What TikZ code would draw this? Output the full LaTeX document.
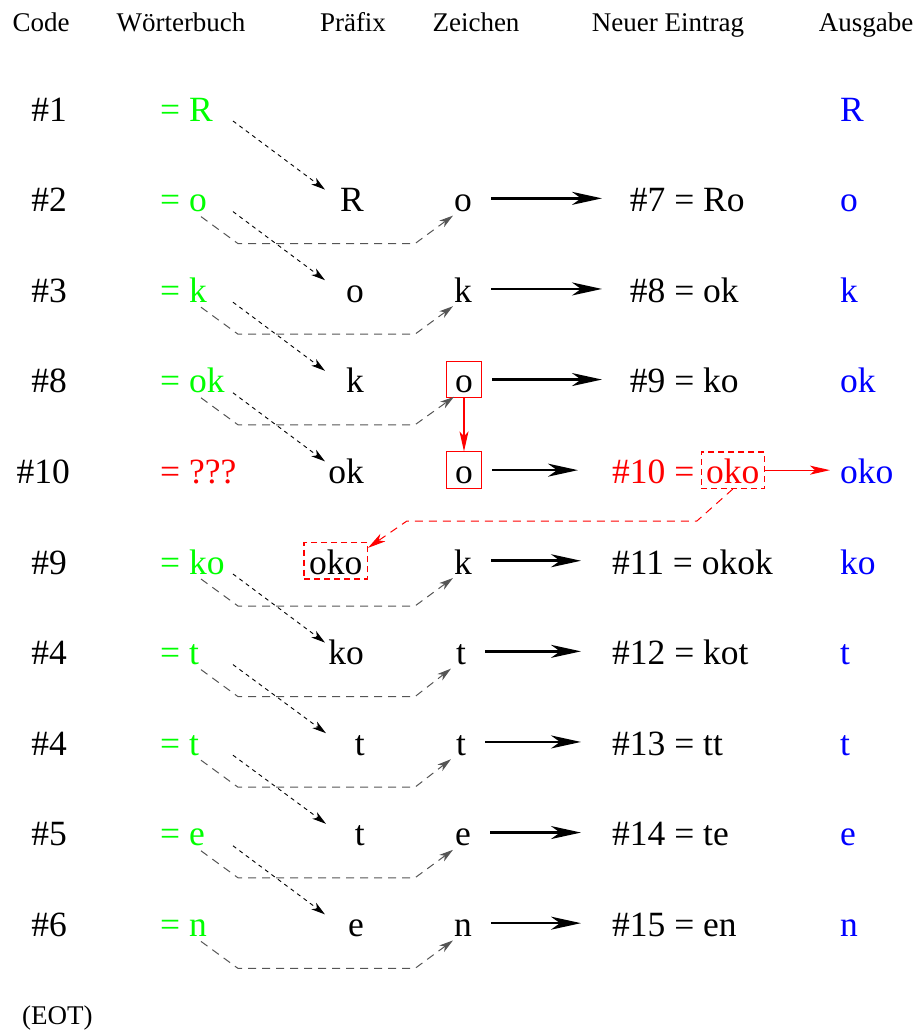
\documentclass[tikz,border=0pt]{standalone}
\usepackage{fontspec}
\setmainfont{Liberation Serif}
\usetikzlibrary{arrows.meta}
\definecolor{fgreen}{RGB}{0,255,0}
\definecolor{fred}{RGB}{255,0,0}
\definecolor{fblue}{RGB}{0,0,255}
\definecolor{pathgrey}{RGB}{85,85,85}
\begin{document}
\begin{tikzpicture}[x=1pt,y=-1pt,
  hdr/.style={font=\fontsize{27}{30}\selectfont, anchor=base, inner sep=0pt},
  txt/.style={font=\fontsize{35.5}{40}\selectfont, inner sep=0pt},
  code/.style={txt, anchor=base east},
  dict/.style={txt, anchor=base west, text=fgreen},
  pre/.style={txt, anchor=base east},
  zch/.style={txt, anchor=base, text height=26.5pt, text depth=0pt, inner xsep=9pt, inner ysep=5pt},
  zbox/.style={zch, draw=fred, line width=1pt},
  okobox/.style={txt, text height=26.5pt, text depth=0pt, inner xsep=5pt, inner ysep=5pt, draw=fred, line width=1.3pt, dash pattern=on 6pt off 4pt},
  entry/.style={txt, anchor=base west},
  outp/.style={txt, anchor=base west, text=fblue},
  bigarrow/.style={line width=2.6pt, -{Stealth[length=30pt,width=13pt,inset=9pt]}},
  feed/.style={line width=0.9pt, dash pattern=on 4pt off 4pt, -{Stealth[length=14pt,width=8pt,inset=4pt]}},
  greypath/.style={draw=pathgrey, line width=1pt, dash pattern=on 8pt off 6pt, -{Stealth[length=14pt,width=8pt,inset=4pt]}},
  redarrow/.style={draw=fred, line width=1.2pt, -{Stealth[length=20pt,width=9pt,inset=5pt]}},
  reddash/.style={draw=fred, line width=1pt, dash pattern=on 8pt off 6pt, -{Stealth[length=18pt,width=9pt,inset=5pt]}}
]
\useasboundingbox (0,0) rectangle (915,1034);

% headers
\node[hdr] (hcode) at (41,31) {Code};
\node[hdr] (hdict) at (181,31) {Wörterbuch};
\node[hdr] (hpre) at (353,31) {Präfix};
\node[hdr] (hz) at (476,31) {Zeichen};
\node[hdr] (hent) at (668,31) {Neuer Eintrag};
\node[hdr] (hout) at (866,31) {Ausgabe};

% codes
\node[code] (c1) at (67,121) {\#1};
\node[code] (c2) at (67,211.6) {\#2};
\node[code] (c3) at (67,302.2) {\#3};
\node[code] (c4) at (67,392.8) {\#8};
\node[code] (c5) at (70,483.4) {\#10};
\node[code] (c6) at (67,574) {\#9};
\node[code] (c7) at (67,664.6) {\#4};
\node[code] (c8) at (67,755.2) {\#4};
\node[code] (c9) at (67,845.8) {\#5};
\node[code] (c10) at (67,936.4) {\#6};

% dictionary
\node[dict] (g1) at (160,121) {= R};
\node[dict] (g2) at (160,211.6) {= o};
\node[dict] (g3) at (160,302.2) {= k};
\node[dict] (g4) at (160,392.8) {= ok};
\node[dict, text=fred] (g5) at (160,483.4) {= ???};
\node[dict] (g6) at (160,574) {= ko};
\node[dict] (g7) at (160,664.6) {= t};
\node[dict] (g8) at (160,755.2) {= t};
\node[dict] (g9) at (160,845.8) {= e};
\node[dict] (g10) at (160,936.4) {= n};

% prefix
\node[pre] (p2) at (364,211.6) {R};
\node[pre] (p3) at (364,302.2) {o};
\node[pre] (p4) at (364,392.8) {k};
\node[pre] (p5) at (364,483.4) {ok};
\node[okobox, anchor=base east] (p6) at (368,574) {oko};
\node[pre] (p7) at (364,664.6) {ko};
\node[pre] (p8) at (365,755.2) {t};
\node[pre] (p9) at (365,845.8) {t};
\node[pre] (p10) at (364,936.4) {e};

% zeichen
\node[zch] (z2) at (463,211.6) {o};
\node[zch] (z3) at (463,302.2) {k};
\node[zbox] (z4) at (464,392.8) {o};
\node[zbox] (z5) at (464,483.4) {o};
\node[zch] (z6) at (463,574) {k};
\node[zch] (z7) at (461,664.6) {t};
\node[zch] (z8) at (461,755.2) {t};
\node[zch] (z9) at (463,845.8) {e};
\node[zch] (z10) at (463,936.4) {n};

% new entries
\node[entry] (e2) at (612,211.6) {\makebox[1.5em][r]{\#7} = Ro};
\node[entry] (e3) at (612,302.2) {\makebox[1.5em][r]{\#8} = ok};
\node[entry] (e4) at (612,392.8) {\makebox[1.5em][r]{\#9} = ko};
\node[entry, text=fred] (e5) at (612,483.4) {\#10 =};
\node[okobox, anchor=base west, text=fred] (oko1) at ([xshift=6pt]e5.base east) {oko};
\node[entry] (e6) at (612,574) {\#11 = okok};
\node[entry] (e7) at (612,664.6) {\#12 = kot};
\node[entry] (e8) at (612,755.2) {\#13 = tt};
\node[entry] (e9) at (612,845.8) {\#14 = te};
\node[entry] (e10) at (612,936.4) {\#15 = en};

% output
\node[outp] (a1) at (840,121) {R};
\node[outp] (a2) at (840,211.6) {o};
\node[outp] (a3) at (840,302.2) {k};
\node[outp] (a4) at (840,392.8) {ok};
\node[outp] (a5) at (840,483.4) {oko};
\node[outp] (a6) at (840,574) {ko};
\node[outp] (a7) at (840,664.6) {t};
\node[outp] (a8) at (840,755.2) {t};
\node[outp] (a9) at (840,845.8) {e};
\node[outp] (a10) at (840,936.4) {n};

\node[hdr, anchor=base west] (eot) at (22,1024) {(EOT)};

% big arrows zeichen -> entry
\foreach \i in {2,3,4}{
  \draw[bigarrow] ([xshift=10pt]z\i.east) -- ([xshift=-10pt]e\i.west |- z\i.east);
}
\foreach \i in {6,7,8,9,10}{
  \draw[bigarrow] ([xshift=10pt]z\i.east) -- ([xshift=-31pt]e\i.west |- z\i.east);
}
\draw[bigarrow] ([xshift=10pt]z5.east) -- ([xshift=-34pt]e5.west |- z5.east);

% dotted feeds dictionary -> prefix of next row
\foreach \a/\b in {1/2,2/3,3/4,4/5,6/7,7/8,8/9,9/10}{
  \draw[feed] ([xshift=73pt]g\a.base west) -- ([xshift=-39pt,yshift=22pt]p\b.base east);
}

% grey paths dictionary -> zeichen same row
\foreach \i in {2,3,4,6,7,8,9,10}{
  \draw[greypath] ([xshift=41pt,yshift=-5pt]g\i.base west) -- ++(37,27) -- ++(177,0) -- ([xshift=-10pt,yshift=-4pt]z\i.base);
}

% red connectors
\draw[redarrow] (z4.south) -- (z5.north);
\draw[redarrow] (oko1.east) -- ([xshift=-10pt]a5.west |- oko1.east);
\draw[reddash] (oko1.south) -- ++(-36,32) -- ++(-290,0) -- ([yshift=-6pt]p6.north east);
\end{tikzpicture}
\end{document}
